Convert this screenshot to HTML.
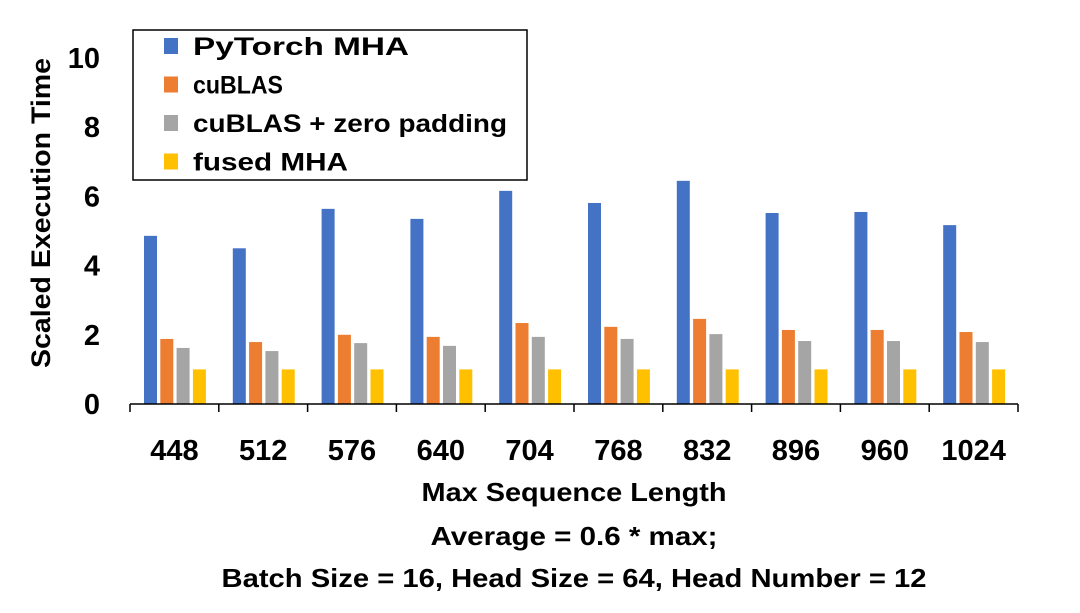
<!DOCTYPE html>
<html><head><meta charset="utf-8"><style>
body{margin:0;background:#fff;}
svg text{font-family:"Liberation Sans",sans-serif;font-weight:bold;fill:#000;}
</style></head><body>
<svg id="chart" width="1080" height="608" viewBox="0 0 1080 608">
<g id="grid"></g>
<g id="bars"></g>
<g id="axes"></g>
<text x="50" y="213" font-size="27" text-anchor="middle" textLength="310" lengthAdjust="spacingAndGlyphs" transform="rotate(-90 50 213)">Scaled Execution Time</text>
<text x="574" y="501" font-size="26" text-anchor="middle" textLength="305" lengthAdjust="spacingAndGlyphs">Max Sequence Length</text>
<text x="574" y="545" font-size="26" text-anchor="middle" textLength="287" lengthAdjust="spacingAndGlyphs">Average = 0.6 * max;</text>
<text x="574" y="587" font-size="26" text-anchor="middle" textLength="705" lengthAdjust="spacingAndGlyphs">Batch Size = 16, Head Size = 64, Head Number = 12</text>
<g>
<rect x="133" y="30" width="394" height="150" fill="#fff" stroke="#000" stroke-width="1.5"/>
<g id="legend"></g>
</g>
</svg>
<script>
const categories=["448","512","576","640","704","768","832","896","960","1024"];
const pytorch=[4.86,4.5,5.64,5.35,6.16,5.81,6.45,5.52,5.55,5.17];
const cublas=[1.88,1.79,2.0,1.94,2.34,2.23,2.46,2.14,2.14,2.08];
const cublasPad=[1.62,1.53,1.76,1.68,1.94,1.88,2.02,1.82,1.82,1.79];
const fused=[1,1,1,1,1,1,1,1,1,1];
const yTicks=[0,2,4,6,8,10];
const seriesNames=["PyTorch MHA","cuBLAS","cuBLAS + zero padding","fused MHA"];
const legendWidths=[216,90,314,155];
const colors=["#4472C4","#ED7D31","#A5A5A5","#FFC000"];
const seriesKeys=["pytorch-mha","cublas","cublas-zero-padding","fused-mha"];
const series=[pytorch,cublas,cublasPad,fused];
const NS="http://www.w3.org/2000/svg";
const x0=130,x1=1018,y0=404,yScale=34.6;
const bandW=(x1-x0)/categories.length;
function yPos(v){return y0-v*yScale;}
function xBand(i){return x0+i*bandW;}
function mk(tag,attrs,parent){const e=document.createElementNS(NS,tag);for(const k in attrs)e.setAttribute(k,attrs[k]);parent.appendChild(e);return e;}
const bars=document.getElementById('bars'),axes=document.getElementById('axes'),leg=document.getElementById('legend');
series.forEach((s,si)=>{s.forEach((v,i)=>{
 const r=mk('rect',{x:xBand(i)+14+si*16.3,y:yPos(v),width:13,height:v*yScale,fill:colors[si]},bars);
 
 
});});
const ax=mk('line',{x1:x0,y1:y0,x2:x1,y2:y0,stroke:'#000','stroke-width':1.5},axes);


for(let i=0;i<=categories.length;i++){
 const t=mk('line',{x1:xBand(i),y1:y0,x2:xBand(i),y2:y0+8,stroke:'#000','stroke-width':1.5},axes);
 
 
}
categories.forEach((c,i)=>{
 const t=mk('text',{x:xBand(i)+bandW/2,y:460,'font-size':29,'text-anchor':'middle'},axes);t.textContent=c;
 
 
});
yTicks.forEach(v=>{
 const t=mk('text',{x:100,y:yPos(v)+10,'font-size':29,'text-anchor':'end'},axes);t.textContent=v;
 
 
});
seriesNames.forEach((n,si)=>{
 const y=46+si*38.5;
 const r=mk('rect',{x:164,y:y-8,width:14,height:16,fill:colors[si]},leg);
 
 
 const t=mk('text',{x:193,y:y+9,'font-size':25,textLength:legendWidths[si],lengthAdjust:'spacingAndGlyphs'},leg);t.textContent=n;
 
 
});
</script>
</body></html>
